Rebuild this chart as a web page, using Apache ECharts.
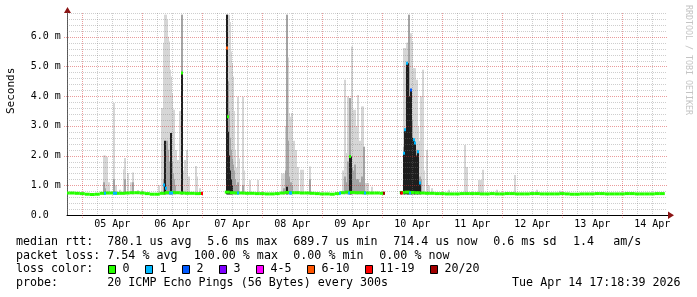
<!DOCTYPE html>
<html><head><meta charset="utf-8">
<script src="https://cdn.jsdelivr.net/npm/echarts@6/dist/echarts.min.js"></script>
<style>html,body{margin:0;padding:0;background:#fff}#c{width:697px;height:297px}</style>
</head><body><div id="c"></div>
<script>
// ---- tick labels ----
const dayLabels = ['05 Apr','06 Apr','07 Apr','08 Apr','09 Apr','10 Apr','11 Apr','12 Apr','13 Apr','14 Apr'];
const dayStartHours = [24,48,72,96,120,144,168,192,216,240];   // hours since 04 Apr 00:00
const yTickValues = [0,1,2,3,4,5,6];

// ---- median rtt (ms), 2-hour steps ----
const medianHours = [18,20,22,24,26,28,30,32,34,36,38,40,42,44,46,48,50,52,54,56,58,60,62,64,66,68,70,72,74,76,78,80,
 82,84,86,88,90,92,94,96,98,100,102,104,106,108,110,112,114,116,118,120,122,124,126,128,130,132,134,136,138,140,142,144,
 146,148,150,152,154,156,158,160,162,164,166,168,170,172,174,176,178,180,182,184,186,188,190,192,194,196,198,200,202,204,
 206,208,210,212,214,216,218,220,222,224,226,228,230,232,234,236,238,240,242,244,246,248,250,252,254,256];
const medianValues = [0.74,0.74,0.73,0.72,0.70,0.69,0.70,0.73,0.74,0.74,0.73,0.73,0.74,0.75,0.75,0.74,0.72,0.70,0.70,0.73,
 0.75,0.76,0.75,0.74,0.73,0.73,0.72,null,null,null,null,null,
 0.77,0.75,0.74,0.74,0.73,0.73,0.72,0.72,0.71,0.71,0.72,0.74,0.76,0.75,0.75,0.74,0.74,0.73,0.72,0.71,0.71,0.70,0.72,0.75,
 0.77,0.76,0.75,0.75,0.74,0.74,0.74,0.73,null,null,null,
 0.76,0.77,0.76,0.75,0.74,0.73,0.73,0.72,0.72,0.71,0.71,0.71,0.72,0.72,0.72,0.72,0.71,0.71,0.72,0.71,0.71,0.72,0.72,0.71,
 0.71,0.71,0.72,0.72,0.71,0.71,0.71,0.71,0.72,0.71,0.70,0.70,0.71,0.71,0.71,0.72,0.72,0.71,0.71,0.71,0.71,0.72,0.72,0.71,
 0.71,0.71,0.71,0.72,0.72];

// ---- smoke (ms): max ping, mid spread, dense core ----
const smokeHours = [32.5,33.1,33.8,34.8,36.8,37.6,39.1,40.5,41.1,42.4,43.5,44.3,46.2,47.9,54.6,55.9,56.5,56.9,57.3,57.7,
 58.1,58.5,58.9,59.3,59.7,60.1,60.5,61.0,61.5,62.1,62.7,63.1,63.9,64.3,65.1,65.9,66.7,69.3,69.9,71.1,
 81.8,82.3,82.7,83.1,83.5,83.9,84.3,84.7,85.1,85.6,86.3,86.8,88.1,88.7,91.0,94.3,
 103.9,104.7,105.3,105.9,106.4,106.8,107.3,107.9,108.5,109.5,110.3,111.3,112.1,115.1,
 128.2,129.1,129.8,130.4,131.1,131.5,131.9,132.4,133.1,133.8,134.4,135.1,135.8,136.4,136.8,137.5,138.3,139.9,
 152.5,153.1,153.7,154.2,154.7,155.3,155.9,156.5,157.1,157.7,158.3,158.9,159.5,160.1,160.7,161.7,162.7,163.7,
 170.5,177.1,177.8,182.5,183.1,183.7,184.2,190.0,197.1,206.0,215.0];
const smokeMax = [2.0,2.0,1.95,1.1,3.77,1.0,0.85,1.54,1.92,1.41,1.1,1.43,0.84,0.85,1.0,3.6,5.8,6.74,6.74,6.57,
 6.0,5.84,4.89,4.66,4.1,3.54,3.54,2.19,2.19,1.85,1.85,3.5,6.74,1.5,1.85,2.19,1.3,1.65,1.3,0.9,
 6.74,6.74,6.74,6.5,5.5,5.12,4.66,3.5,2.2,1.6,3.98,1.9,3.98,1.5,1.18,1.18,
 1.4,1.4,3.0,6.74,5.3,3.43,3.31,3.43,2.5,2.19,1.62,1.52,1.52,1.63,
 1.5,4.55,2.09,3.99,3.94,3.0,5.67,3.54,3.54,3.0,4.04,2.5,3.65,3.65,2.3,1.08,1.08,0.95,
 5.62,5.62,5.8,5.8,6.74,6.12,5.84,4.95,4.94,4.55,3.0,2.5,4.0,4.89,1.5,2.19,1.0,0.9,
 0.85,2.36,1.62,1.18,1.18,1.18,1.52,0.85,1.35,0.85,0.82];
const smokeMid = [1.1,0.9,0,0,1.2,0,0,0,1.2,0,0,1.1,0,0,0,0,1.2,2.0,2.2,2.5,
 2.2,1.8,1.6,2.0,1.8,1.4,1.2,1.0,0,0,0,0,6.74,0,0,0,0,0,0,0,
 6.74,4.5,3.5,2.6,2.2,1.9,1.7,1.5,1.2,1.0,1.1,0,1.0,0,0,0,
 0,0.9,1.5,6.74,2.5,1.3,1.1,1.0,0,0,0,0,0,1.2,
 0,1.3,1.1,1.8,3.94,1.8,1.6,1.5,1.7,1.2,1.2,1.1,1.3,1.1,2.3,0,0,0,
 2.3,2.9,5.11,5.11,6.74,4.21,3.2,2.53,2.42,2.2,2.13,1.3,1.2,0,0,0,0,0,
 0,0,0,0,0,0,0,0,0,0,0];
const smokeDense = [0,0,0,0,0,0,0,0,0,0,0,0,0,0,0,0,0,2.5,0,0,
 0,0,0,2.76,0,0,0,0,0,0,0,0,4.78,0,0,0,0,0,0,0,
 6.74,2.8,2.0,1.5,1.2,1.0,0,0,0,0,0,0,0,0,0,0,
 0,0,0,0.95,0,0,0,0,0,0,0,0,0,0,
 0,0,0,0,1.97,1.97,0,0,0,0,0,0,0,0,0,0,0,0,
 2.08,2.87,5.11,5.11,4.0,4.21,2.6,2.53,2.42,2.0,2.13,1.08,0,0,0,0,0,0,
 0,0,0,0,0,0,0,0,0,0,0];

// ---- median marks coloured by lost pings ----
const lossMarkHours  = [32.9,36.8,37.4,56.8,57.6,59.1,59.9,63.9,71.1,71.9,81.8,82.4,86.4,107.1,107.6,127.2,130.5,131.2,137.1,144.5,
 151.3,151.8,152.5,153.1,153.9,155.1,155.3,156.5,157.1,158.3,158.9];
const lossMarkValues = [0.73,0.73,0.73,1.01,0.90,0.74,0.74,4.78,0.72,0.72,5.62,3.31,0.74,0.74,0.74,0.73,0.74,1.97,0.74,0.73,
 0.74,0.74,2.08,2.87,5.11,0.74,4.21,2.53,2.42,2.13,1.08];
const lossMarkCounts = [1,1,1,1,1,1,1,0,0,12,7,0,1,1,1,1,1,0,1,20,
 20,12,1,1,1,1,2,1,1,1,1];

// ---- legend ----
const lossLabels = ['0','1','2','3','4-5','6-10','11-19','20/20'];
const lossColors = ['#26ff00','#00b8ff','#0059ff','#7e00ff','#ff00ff','#ff5500','#ff0000','#a10000'];
const rttStats = ['780.1 us avg','5.6 ms max','689.7 us min','714.4 us now','0.6 ms sd','1.4','am/s'];
const lossStats = ['7.54 % avg','100.00 % max','0.00 % min','0.00 % now'];
const probeText = '20 ICMP Echo Pings (56 Bytes) every 300s';
const stampText = 'Tue Apr 14 17:18:39 2026';

// ---- layout ----
const X_MIN = 17.88, X_MAX = 257.88, Y_MAX = 6.8;
const MONO = '"DejaVu Sans Mono"';
const LF = '11.66px ' + MONO;
const CH = 7.02;
const rttX = [107.3,207.3,293.3,393.3,493.3,573,613.3];
const lossX = [107.3,193.7,293.3,379.3];
const rowY = [241.7,255.7,269.3,283.3];
const GRID_MINOR = 'rgba(120,120,120,0.36)';
const GRID_MAJOR = 'rgba(210,40,40,0.46)';

function lossIndex(n){ if(n<=3) return n; if(n<=5) return 4; if(n<=10) return 5; if(n<=19) return 6; return 7; }

const medianData = medianHours.map((h,i)=>[h, medianValues[i]]).filter(d=>d[1]!=null);
const smokeData = smokeHours.map((h,i)=>[h, smokeMax[i], smokeMid[i], smokeDense[i]]);
const markData = lossMarkHours.map((h,i)=>[h, lossMarkValues[i], lossMarkCounts[i]]);

// grid: [xValue, yValue, kind]  kind 0 = v-minor, 1 = v-major, 2 = h-minor, 3 = h-major
const gridData = [];
dayStartHours.forEach(d=>{
  gridData.push([d, 0, 1]);
  [-18,-12,-6,6,12,18].forEach(o=>{
    const h=d+o;
    if(h>X_MIN && h<X_MAX && dayStartHours.indexOf(h)<0 && !gridData.some(g=>g[2]===0 && g[0]===h)) gridData.push([h,0,0]);
  });
});
for(let i=1;i<=34;i++) gridData.push([X_MIN, i/5, (i%5===0)?3:2]);

function smokeLayer(dim, color){
  return {type:'custom', z:2, silent:true, clip:true, animation:false, data:smokeData, encode:{x:0,y:dim},
    renderItem(params, api){
      const top = api.value(dim);
      if(!top) return {type:'group', children:[]};
      const a = api.coord([api.value(0), top]);
      const b = api.coord([api.value(0), 0.7]);
      return {type:'rect', shape:{x:Math.round(a[0])-1, y:a[1], width:2, height:b[1]-a[1]}, style:{fill:color}};
    }};
}

const graphics = [];
function txt(s,x,y,opt){
  opt=opt||{};
  graphics.push({type:'text', x:x, y:y, rotation:opt.rot||0, silent:true,
    style:{text:s, font:opt.font||LF, fill:opt.fill||'#000', align:opt.align||'left', verticalAlign:'middle',
      textAlign:opt.align||'left', textVerticalAlign:'middle'}});
}
txt('median rtt:',16,rowY[0]);
rttStats.forEach((s,i)=>txt(s,rttX[i],rowY[0]));
txt('packet loss:',16,rowY[1]);
lossStats.forEach((s,i)=>txt(s,lossX[i],rowY[1]));
txt('loss color:',16,rowY[2]);
let bx=108;
lossLabels.forEach((s,i)=>{
  graphics.push({type:'rect', silent:true, shape:{x:bx+0.5,y:265.5,width:7,height:8}, style:{fill:lossColors[i], stroke:'#000', lineWidth:1}});
  const tx = bx+14.5;
  txt(s,tx,rowY[2]);
  bx = Math.round(tx + s.length*CH + 15.8);
});
txt('probe:',16,rowY[3]);
txt(probeText,107.3,rowY[3]);
txt(stampText,680.5,rowY[3],{align:'right'});
txt('Seconds',11,114,{rot:Math.PI/2, font:'11px '+MONO});
txt('RRDTOOL / TOBI OETIKER',688,60,{rot:-Math.PI/2, font:'8.3px '+MONO, fill:'#c4c4c4', align:'center'});
// axis extensions & arrows
graphics.push({type:'line', silent:true, shape:{x1:667,y1:215.5,x2:670,y2:215.5}, style:{stroke:'#000',lineWidth:1}});
graphics.push({type:'line', silent:true, shape:{x1:67.5,y1:13,x2:67.5,y2:10}, style:{stroke:'#555',lineWidth:1}});
graphics.push({type:'polygon', silent:true, shape:{points:[[64,13],[71,13],[67.5,7]]}, style:{fill:'#8b1414'}});
graphics.push({type:'polygon', silent:true, shape:{points:[[668,211.5],[668,219],[674,215.3]]}, style:{fill:'#8b1414'}});

const chart = echarts.init(document.getElementById('c'), null, {renderer:'canvas'});
chart.setOption({
  animation:false,
  backgroundColor:'#fff',
  grid:{left:67, top:13, width:600, height:202, containLabel:false},
  xAxis:{type:'value', min:X_MIN, max:X_MAX,
    axisLine:{show:true, lineStyle:{color:'#000', width:1}},
    axisTick:{show:false}, splitLine:{show:false},
    axisLabel:{customValues: dayStartHours.map(d=>d+12), margin:4, fontFamily:'DejaVu Sans Mono', fontSize:10, color:'#000',
      formatter:v=>{ const i = dayStartHours.indexOf(Math.round(v)-12); return i>=0?dayLabels[i]:''; }}},
  yAxis:{type:'value', min:0, max:Y_MAX, interval:1,
    axisLine:{show:true, lineStyle:{color:'#555', width:1}},
    axisTick:{show:false}, splitLine:{show:false},
    axisLabel:{fontFamily:'DejaVu Sans Mono', fontSize:10, color:'#000', align:'left', margin:36.3,
      formatter:v=>{ if(yTickValues.indexOf(v)<0) return ''; return v===0?'0.0':v.toFixed(1)+' m'; }}},
  series:[
    smokeLayer(1,'#d6d6d6'),
    smokeLayer(2,'#a4a4a4'),
    smokeLayer(3,'#1e1e1e'),
    {type:'custom', z:3, silent:true, clip:false, data:gridData, encode:{x:0,y:1},
      renderItem(params, api){
        const kind = api.value(2);
        const bot = api.coord([X_MIN,0]), top = api.coord([X_MAX,Y_MAX]);
        const major = (kind===1||kind===3);
        const color = major?GRID_MAJOR:GRID_MINOR;
        const ext = major?3:0;
        if(kind<2){
          const x = Math.floor(api.coord([api.value(0),0])[0])+0.5;
          return {type:'line', shape:{x1:x,y1:top[1],x2:x,y2:bot[1]+ext}, style:{stroke:color, lineWidth:1, lineDash:[1,1]}};
        }
        const y = Math.round(api.coord([X_MIN,api.value(1)])[1])+0.5;
        return {type:'line', shape:{x1:bot[0]-ext,y1:y,x2:top[0],y2:y}, style:{stroke:color, lineWidth:1, lineDash:[1,1]}};
      }},
    {type:'custom', z:4, silent:true, clip:true, data:medianData, encode:{x:0,y:1},
      renderItem(params, api){
        const h=api.value(0), v=api.value(1);
        const a=api.coord([h-1,v]), b=api.coord([h+1,v]);
        return {type:'rect', shape:{x:a[0], y:a[1]-1.5, width:b[0]-a[0], height:3}, style:{fill:lossColors[0]}};
      }},
    {type:'custom', z:5, silent:true, clip:true, data:markData, encode:{x:0,y:1},
      renderItem(params, api){
        const p=api.coord([api.value(0),api.value(1)]);
        return {type:'rect', shape:{x:Math.round(p[0])-1, y:p[1]-1.5, width:2, height:3}, style:{fill:lossColors[lossIndex(api.value(2))]}};
      }}
  ],
  graphic: graphics
});
</script></body></html>
